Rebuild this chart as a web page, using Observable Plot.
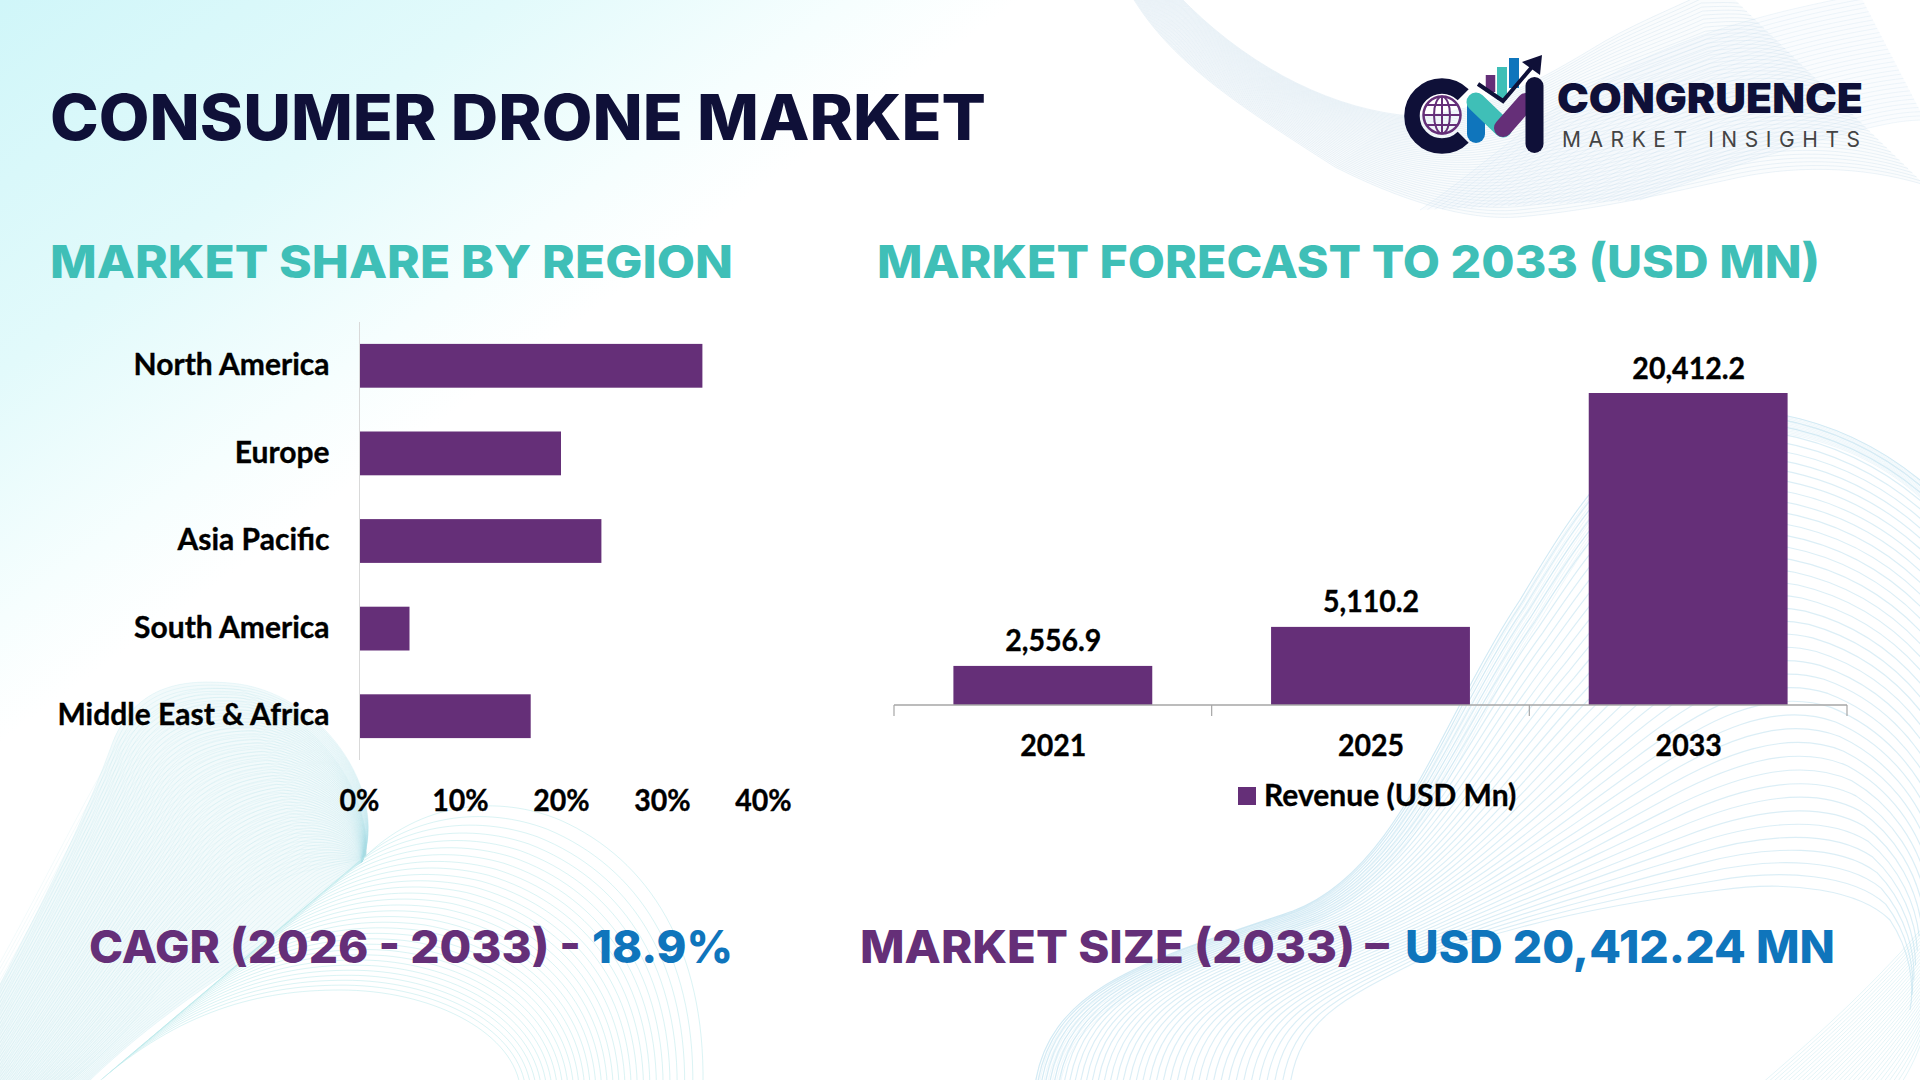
<!DOCTYPE html>
<html>
<head>
<meta charset="utf-8">
<script src="https://cdn.jsdelivr.net/npm/d3@7"></script>
<script src="https://cdn.jsdelivr.net/npm/@observablehq/plot@0.6"></script>
<style>
html,body{margin:0;padding:0;background:#fff}
#page{position:relative;width:1920px;height:1080px;overflow:hidden;background:linear-gradient(144deg,#d0f6f9 0,#e2fafb 15%,#f6fefe 25%,#fff 30%)}
#decor,#heads{position:absolute;left:0;top:0}
#left,#right{position:absolute}
#left{left:0;top:300px}
#right{left:860px;top:320px}
#legend{position:absolute;left:1238px;top:780px;display:flex;align-items:center;height:32px}
#legend i{display:block;width:17.5px;height:17.5px;background:#652f78;margin-right:8.5px}
#legend span{font:700 30px Lato;color:#000;display:inline-block;position:relative;top:-2px;white-space:nowrap;-webkit-text-stroke:.35px #000}
</style>
</head>
<body>
<div id="page">
<svg id="decor" width="1920" height="1080"></svg>
<svg id="heads" width="1920" height="1080"></svg>
<div id="left"></div>
<div id="right"></div>
<div id="legend"><i></i><span></span></div>
</div>
<script>
const regions = ["North America","Europe","Asia Pacific","South America","Middle East & Africa"];
const shares = [34,20,24,5,17];
const shareTicks = [0,10,20,30,40];
const years = ["2021","2025","2033"];
const revenue = [2556.9,5110.2,20412.2];
const legendLabel = "Revenue (USD Mn)";
const PURPLE="#652f78", BLUE="#0f75bc", TEAL="#3fbfb7", NAVY="#0f1038";
const FONT="Lato";

// ---------- background decoration ----------
const decor=d3.select("#decor");
const bez=p=>{let d=`M${p[0]}`;for(let k=1;k+2<p.length;k+=3)d+=`C${p[k]} ${p[k+1]} ${p[k+2]}`;return d;};
function family(a,b,n,stroke,op,w,pow=1){
  const g=decor.append("g").attr("fill","none").attr("stroke",stroke).attr("stroke-opacity",op).attr("stroke-width",w);
  for(let i=0;i<=n;i++){
    const t=Math.pow(i/n,pow);
    g.append("path").attr("d",bez(a.map((q,k)=>[q[0]+(b[k][0]-q[0])*t,q[1]+(b[k][1]-q[1])*t])));
  }
}
function band(a,b,fill,op){
  const rev=[...b].reverse();
  decor.append("path").attr("d",bez(a)+"L"+rev[0]+bez(rev).slice(1+String(rev[0]).length)+"Z").attr("fill",fill).attr("fill-opacity",op);
}
// bottom-left ribbon
const ribA=[[-60,1100],[-10,1000],[70,860],[111,747],[135,680],[190,680],[230,683],[320,690],[390,790],[362,862]];
const ribB=[[80,1090],[140,1030],[200,990],[260,950],[290,925],[310,905],[325,892],[340,880],[350,870],[362,862]];
band(ribA,ribB,"#d6f0f4",.32);
family(ribA,ribB,70,"#a9dce5",.26,.8);
family([[-80,1090],[0,980],[50,860],[120,740],[160,690],[200,685],[240,690],[320,720],[370,790],[366,855]],
       [[40,1100],[90,1070],[120,1040],[150,1000],[190,940],[260,880],[310,870],[340,865],[355,860],[364,858]],44,"#a9dce5",.2,.7);
// bottom-middle lobe
family([[362,860],[420,800],[500,795],[560,820],[650,860],[705,950],[703,1085]],
       [[95,1085],[180,1010],[260,990],[340,990],[430,990],[510,1030],[520,1085]],30,"#b5e7ea",.5,1,.85);
// bottom-right sweep
const swA=[[1035,1085],[1050,985],[1150,960],[1293,911],[1400,870],[1440,720],[1520,600],[1580,500],[1640,400],[1750,410],[1850,420],[1920,470],[1970,530]];
const swB=[[1290,1085],[1300,1020],[1340,1000],[1420,960],[1520,920],[1640,900],[1720,890],[1790,880],[1860,890],[1890,920],[1910,950],[1915,985],[1910,1010]];
family(swA,swB,40,"#aad6ea",.42,1.15,1.25);
family(swA,[[1060,1085],[1075,1000],[1170,975],[1310,925],[1420,880],[1460,740],[1540,620],[1600,520],[1660,430],[1760,430],[1860,440],[1930,490],[1970,560]],12,"#aad6ea",.2,1);
// bottom-right corner
family([[1760,1085],[1800,1050],[1860,1000],[1925,925]],[[1900,1085],[1910,1070],[1920,1050],[1925,1030]],30,"#a9dce5",.35,.9);
// top-right sweeps
const trA=[[1131,-5],[1170,60],[1230,100],[1335,167],[1420,210],[1480,220],[1518,217],[1600,210],[1680,190],[1727,180],[1790,165],[1860,165],[1925,185]];
const trB=[[1178,-5],[1240,60],[1320,105],[1400,115],[1470,120],[1540,80],[1590,50],[1630,25],[1670,10],[1700,-5],[1720,-5],[1725,-5],[1730,-5]];
band(trA,trB,"#e6f1f7",.2);
family(trA,trB,46,"#bcd6e8",.32,.9);
const trC=[[1420,210],[1480,170],[1540,110],[1620,70],[1700,30],[1780,10],[1860,-5]];
const trD=[[1640,200],[1720,170],[1780,150],[1840,135],[1880,125],[1900,120],[1925,120]];
band(trC,trD,"#e6f1f7",.18);
family(trC,trD,30,"#bcd6e8",.25,.9);

// ---------- headings & logo ----------
const heads=d3.select("#heads");
function txt(s,x,y,len,size,fill,extra={}){
  const t=heads.append("text").attr("x",x).attr("y",y).attr("font-family",extra.family||"Inter")
    .attr("font-weight",extra.weight||800).attr("font-size",size).attr("fill",fill)
    .attr("textLength",len).attr("lengthAdjust",extra.adjust||"spacingAndGlyphs").text(s);
  return t;
}
txt("CONSUMER DRONE MARKET",50,140,936,63,NAVY);
txt("MARKET SHARE BY REGION",50,278,683,45.5,TEAL);
txt("MARKET FORECAST TO 2033 (USD MN)",877,278,943,45.5,TEAL);
txt("CAGR (2026 - 2033) -",89,963,492,45.5,PURPLE);
txt("18.9%",592,963,141,45.5,BLUE);
txt("MARKET SIZE (2033) –",860,963,529,45.5,PURPLE);
txt("USD 20,412.24 MN",1405,963,430,45.5,BLUE);
txt("CONGRUENCE",1557,113,306,41,NAVY,{weight:900});
txt("MARKET INSIGHTS",1562,147,298,21,"#444444",{weight:400,adjust:"spacing"});

const logo=heads.append("g");
const seg=(d,c,w=18,cap="round")=>logo.append("path").attr("d",d).attr("fill","none").attr("stroke",c).attr("stroke-width",w).attr("stroke-linecap",cap).attr("stroke-linejoin","miter");
seg("M1463.2,94.8A30,30 0 1 0 1463.2,137.2",NAVY,15.5,"butt");
seg("M1490.5,92V75",PURPLE,9.5,"butt");
seg("M1502,100V67",TEAL,10,"butt");
seg("M1514,88V58",BLUE,10,"butt");
seg("M1476,104V134",BLUE);
seg("M1476,102L1503,128",TEAL,19,"round");
seg("M1503,128L1526,102",PURPLE,18,"round");
seg("M1534.5,86V144",NAVY,18,"round");
seg("M1478,84L1503,101L1532,67",NAVY,4,"butt");
logo.append("path").attr("d","M1522,62L1542,55L1540,75Z").attr("fill",NAVY);
const gl=logo.append("g").attr("fill","none").attr("stroke",PURPLE).attr("stroke-width",2);
gl.append("circle").attr("cx",1442).attr("cy",115).attr("r",18.5).attr("stroke-width",2.5);
gl.append("ellipse").attr("cx",1442).attr("cy",115).attr("rx",8).attr("ry",18.5);
gl.append("path").attr("d","M1442,96.5V133.5M1424,115H1460M1427,105H1457M1427,125H1457");

// ---------- left chart ----------
const leftPlot=Plot.plot({
  width:800,height:520,marginLeft:359,marginRight:37,marginTop:22,marginBottom:60,
  style:{background:"transparent",fontFamily:FONT,fontSize:"30px",fontWeight:700,color:"#000",overflow:"visible"},
  x:{domain:[0,40],ticks:shareTicks,tickFormat:d=>d+"%"},
  y:{domain:regions,paddingInner:0.5,paddingOuter:0.25,round:false},
  marks:[
    Plot.barX(regions.map((r,i)=>({r,v:shares[i]})),{x:"v",y:"r",fill:PURPLE}),
    Plot.ruleX([0],{stroke:"#d9d9d9",strokeWidth:1}),
    Plot.axisY({tickSize:0,tickPadding:30,label:null,textStroke:"none",dy:-1}),
    Plot.axisX({ticks:shareTicks,tickSize:0,tickPadding:29,label:null,tickFormat:d=>d+"%"})
  ]
});
document.getElementById("left").append(leftPlot);

// ---------- right chart ----------
const edgeTicks=(index,scales,values,dims)=>{
  const {marginLeft:l,width:w,marginRight:r,height:h,marginBottom:b}=dims;
  const y0=h-b,g=d3.create("svg:g").attr("stroke","#a6a6a6").attr("stroke-width",1.2);
  g.append("line").attr("x1",l).attr("x2",w-r).attr("y1",y0).attr("y2",y0).attr("stroke-width",1.6);
  for(let i=0;i<=years.length;i++){const x=l+i*(w-l-r)/years.length;
    g.append("line").attr("x1",x).attr("x2",x).attr("y1",y0).attr("y2",y0+11);}
  return g.node();
};
const rows=years.map((y,i)=>({y,v:revenue[i]}));
const rightPlot=Plot.plot({
  width:1060,height:520,marginLeft:34,marginRight:73,marginTop:73,marginBottom:135,
  style:{background:"transparent",fontFamily:FONT,fontSize:"30px",fontWeight:700,color:"#000",overflow:"visible"},
  x:{domain:years,paddingInner:0.374,paddingOuter:0.187,round:false},
  y:{domain:[0,20412.2]},
  marks:[
    Plot.barY(rows,{x:"y",y:"v",fill:PURPLE}),
    edgeTicks,
    Plot.text(rows,{x:"y",y:"v",text:d=>d3.format(",.1f")(d.v),dy:-15,lineAnchor:"bottom",fontSize:30,fontWeight:700,fill:"#000"}),
    Plot.axisX({tickSize:0,tickPadding:29,label:null}),
    Plot.axisY({ticks:[],label:null,tickSize:0})
  ]
});
document.getElementById("right").append(rightPlot);
document.querySelector("#legend span").textContent=legendLabel;

// Calibri-like proportions and weight for chart text
for(const t of document.querySelectorAll("#left text, #right text")){
  const isY=t.closest('[aria-label="y-axis tick label"]');
  t.setAttribute("textLength",t.getComputedTextLength()*(isY?1:0.95));
  t.setAttribute("lengthAdjust","spacingAndGlyphs");
  t.setAttribute("stroke","#000");t.setAttribute("stroke-width",".35");
}
</script>
</body>
</html>
